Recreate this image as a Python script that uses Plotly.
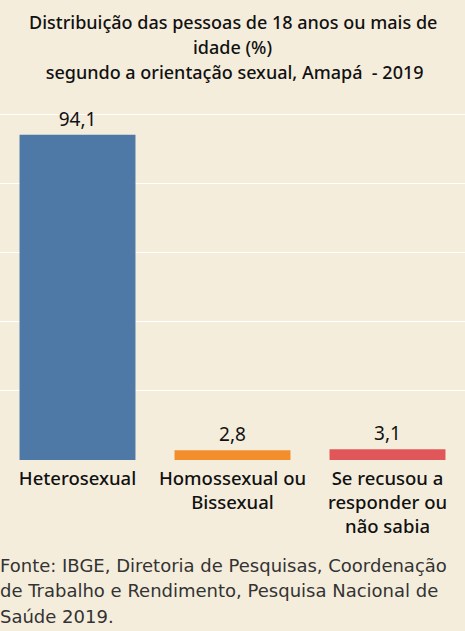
import plotly.graph_objects as go

# dados
categorias = ["Heterosexual", "Homossexual ou<br>Bissexual", "Se recusou a<br>responder ou<br>não sabia"]
percentuais = [94.1, 2.8, 3.1]
cores = ["#4E79A7", "#F28E2B", "#E15759"]

titulo_linhas = ["Distribuição das pessoas de 18 anos ou mais de",
                 "idade (%)",
                 " segundo a orientação sexual, Amapá  - 2019"]
fonte_linhas = ["Fonte: IBGE, Diretoria de Pesquisas, Coordenação",
                "de Trabalho e Rendimento, Pesquisa Nacional de",
                "Saúde 2019."]

FONT = "Noto Sans"
BG = "#F5EDDC"
PLOT_TOP, PLOT_BOTTOM = 104, 460
PLOT_H = PLOT_BOTTOM - PLOT_TOP


def py(pixel_y):
    # pixel da página -> coordenada "paper"
    return (PLOT_BOTTOM - pixel_y) / PLOT_H


fig = go.Figure()
fig.add_trace(go.Bar(
    x=categorias, y=percentuais,
    marker=dict(color=cores, line=dict(width=0)),
    texttemplate="%{y:.1f}", textposition="outside",
    textfont=dict(family=FONT, size=19, color="#111111"),
    cliponaxis=False, hoverinfo="skip",
))

fig.update_layout(
    width=465, height=631,
    separators=",.",
    paper_bgcolor=BG, plot_bgcolor=BG,
    margin=dict(l=0, r=0, t=PLOT_TOP, b=631 - PLOT_BOTTOM),
    bargap=0.252,
    showlegend=False,
    font=dict(family=FONT),
)
fig.update_yaxes(range=[0, 103], showticklabels=False, gridcolor="#FFFFFF",
                 gridwidth=1, dtick=20, zeroline=False, fixedrange=True)
fig.update_xaxes(tickfont=dict(family=FONT, size=18.5, color="#111111", weight=500),
                 showline=False, ticks="", ticklabelstandoff=5, fixedrange=True)

# título (3 linhas, centrado)
for i, linha in enumerate(titulo_linhas):
    fig.add_annotation(text=linha, xref="paper", yref="paper", x=0.5,
                       y=py(22 + 25 * i), xanchor="center", yanchor="middle",
                       showarrow=False,
                       font=dict(family=FONT, size=18, color="#111111", weight=500))

# fonte
for i, linha in enumerate(fonte_linhas):
    fig.add_annotation(text=linha, xref="paper", yref="paper", x=0,
                       y=py(565 + 25.5 * i), xanchor="left", yanchor="middle",
                       showarrow=False, xshift=-2,
                       font=dict(family="DejaVu Sans", size=18, color="#333333"))

fig.write_html("out.html", config={"displayModeBar": False},
               post_script="document.body.style.margin='0';")
